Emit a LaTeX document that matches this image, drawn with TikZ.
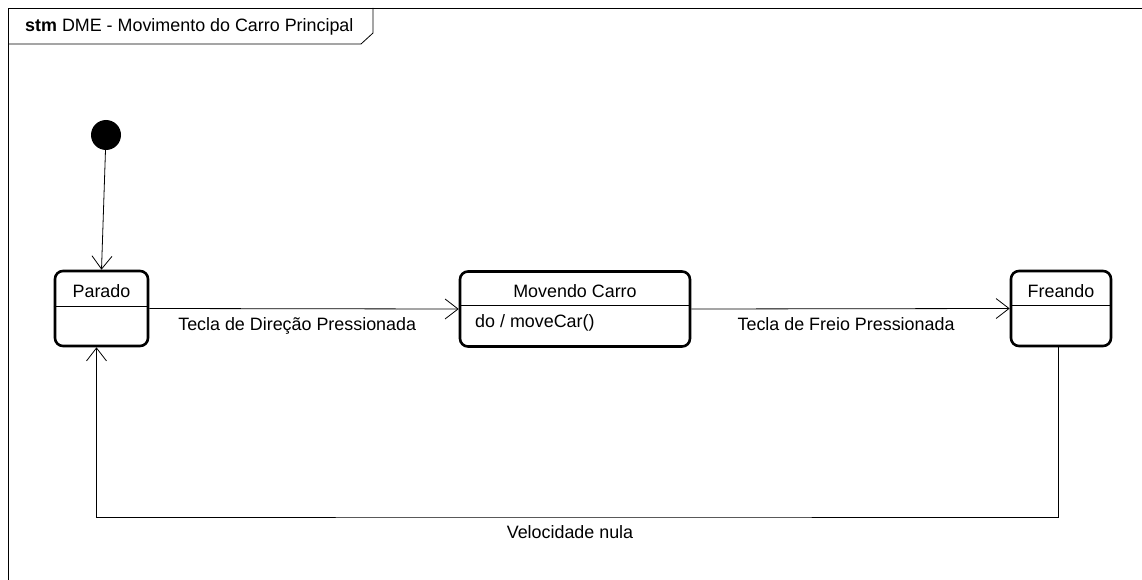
\documentclass[tikz,border=0pt]{standalone}
\usepackage{fontspec}
\setmainfont{Liberation Sans}
\usetikzlibrary{arrows.meta,positioning,calc}

\begin{document}
\begin{tikzpicture}[x=1pt,y=-1pt,
  font=\fontsize{17.9}{21}\selectfont,
  state/.style={draw,line width=2.6pt,rounded corners=8pt,minimum height=75pt,inner sep=0pt},
  stname/.style={inner sep=0pt,anchor=center},
  init/.style={circle,fill=black,minimum size=30pt,inner sep=0pt},
  arr/.style={-{Straight Barb[length=13pt,width=20pt]},line width=0.8pt},
  lbl/.style={inner sep=0pt,align=center}]
\clip (0,0) rectangle (1142,580);
\fill[white] (0,0) rectangle (1142,580);
% frame and title tab
\draw[line width=0.8pt] (8,590) -- (8,8) -- (1150,8);
\draw[line width=0.8pt] (8,44) -- (361,44) -- (373,33) -- (373,8);
\node[anchor=west,inner sep=0pt] (title) at (25,27) {\textbf{stm} DME - Movimento do Carro Principal};
% states
\node[init] (start) at (106,135) {};
\node[state,minimum width=93pt] (parado) at (101.5,308.5) {};
\node[state,minimum width=230pt] (movendo) at (575,309) {};
\node[state,minimum width=100pt] (freando) at (1061,308.5) {};
\node[stname] at (101.5,291) {Parado};
\node[stname] at (575,291) {Movendo Carro};
\node[stname] at (1061,291) {Freando};
\node[anchor=west,inner sep=0pt] (doact) at (475,323) {do / moveCar()};
\draw[line width=0.8pt] (parado.west |- 0,306) -- (parado.east |- 0,306);
\draw[line width=0.8pt] (movendo.west |- 0,305) -- (movendo.east |- 0,305);
\draw[line width=0.8pt] (freando.west |- 0,305) -- (freando.east |- 0,305);
% transitions
\draw[arr] (start) -- (parado.north);
\draw[arr] (parado.east) -- node[lbl,pos=0.478,below=8pt] {Tecla de Direção Pressionada} (movendo.west);
\draw[arr] (movendo.east) -- node[lbl,pos=0.486,below=8pt] {Tecla de Freio Pressionada} (freando.west);
\coordinate (ret) at (570,517);
\draw[arr] ([xshift=-3pt]freando.south) |- (ret) -| ([xshift=-5pt]parado.south);
\node[lbl,below=8pt of ret] (vnula) {Velocidade nula};
\end{tikzpicture}
\end{document}
